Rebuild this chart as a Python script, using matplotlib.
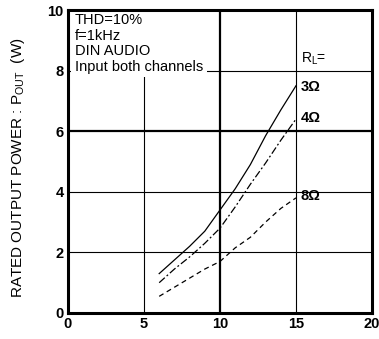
import numpy as np
import matplotlib.pyplot as plt

plt.rcParams['font.family'] = ['Liberation Sans', 'DejaVu Sans']

# supply voltage (V) and output power (W) for each load
vcc = [6, 7, 8, 9, 10, 11, 12, 13, 14, 15]
p_3ohm = [1.3, 1.75, 2.2, 2.7, 3.4, 4.1, 4.9, 5.85, 6.7, 7.5]
p_4ohm = [1.0, 1.45, 1.85, 2.3, 2.8, 3.5, 4.25, 4.95, 5.7, 6.4]
p_8ohm = [0.55, 0.85, 1.15, 1.45, 1.7, 2.15, 2.5, 3.0, 3.45, 3.8]

xticks = [0, 5, 10, 15, 20]
yticks = [0, 2, 4, 6, 8, 10]

fig = plt.figure(figsize=(3.79, 3.39), dpi=100)
ax = fig.add_axes([0.1794, 0.0767, 0.8021, 0.8938])
ax.set_xlim(0, 20)
ax.set_ylim(0, 10)

# grid, with the heavier lines at 10 V and 6 W
for x in [5, 15]:
    ax.axvline(x, color='black', lw=0.8, zorder=1)
for y in [2, 4, 8]:
    ax.axhline(y, color='black', lw=0.8, zorder=1)
ax.axvline(10, color='black', lw=1.6, zorder=1)
ax.axhline(6, color='black', lw=1.6, zorder=1)

ax.plot(vcc, p_3ohm, color='black', lw=0.9, ls='-', zorder=3)
ax.plot(vcc, p_4ohm, color='black', lw=0.9, ls=(0, (6, 2, 1.5, 2)), zorder=3)
ax.plot(vcc, p_8ohm, color='black', lw=0.9, ls=(0, (4, 3)), zorder=3)

# condition box hides the grid behind it, but not the frame
ax.text(0.45, 9.9, "THD=10%\nf=1kHz\nDIN AUDIO\nInput both channels",
        fontsize=10.5, va='top', ha='left', linespacing=1.15, zorder=2,
        bbox=dict(facecolor='white', edgecolor='none', pad=2.5))

ax.text(15.3, 8.4, "R$_{\\mathregular{L}}$=", fontsize=10, va='center', zorder=4)
ax.text(15.3, 7.45, "3\u03a9", fontsize=10.5, va='center', fontweight='bold', zorder=4)
ax.text(15.3, 6.45, "4\u03a9", fontsize=10.5, va='center', fontweight='bold', zorder=4)
ax.text(15.3, 3.85, "8\u03a9", fontsize=10.5, va='center', fontweight='bold', zorder=4)

for s in ax.spines.values():
    s.set_linewidth(2.2)

ax.set_xticks(xticks)
ax.set_yticks(yticks)
ax.tick_params(length=0, labelsize=10.5, pad=3)
for lab in ax.get_xticklabels() + ax.get_yticklabels():
    lab.set_fontweight('bold')

ax.set_ylabel("RATED OUTPUT POWER : P$_{\\mathregular{OUT}}$  (W)", fontsize=11)
ax.yaxis.set_label_coords(-0.135, 0.48)

plt.savefig('out.png', dpi=100)
